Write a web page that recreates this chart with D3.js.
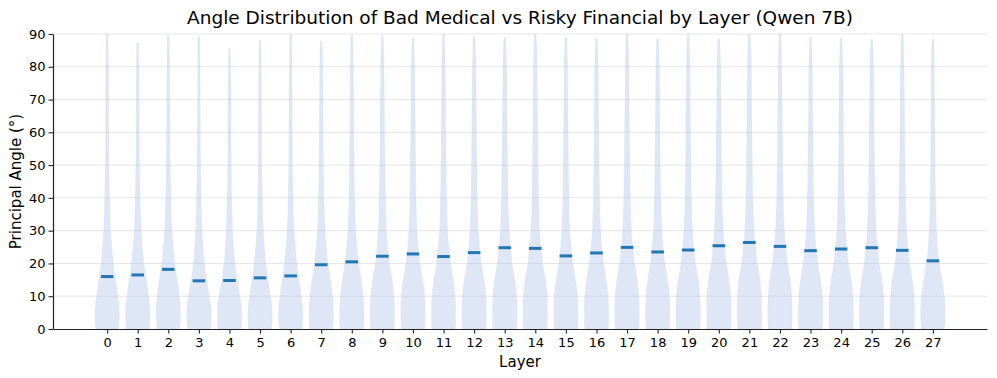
<!DOCTYPE html>
<html>
<head>
<meta charset="utf-8">
<script src="https://cdn.jsdelivr.net/npm/d3@7"></script>
<style>
    body { margin: 0; background: #fff; }
    text { font-family: "DejaVu Sans", sans-serif; fill: #000; }
</style>
</head>
<body>
<div id="chart"></div>
<script>
'use strict';

// layer labels on the x axis
const layers = [0, 1, 2, 3, 4, 5, 6, 7, 8, 9, 10, 11, 12, 13, 14, 15, 16, 17, 18, 19, 20, 21, 22, 23, 24, 25, 26, 27];

// median angle per layer (deg)
const medians = [16.0, 16.5, 18.2, 14.7, 14.8, 15.6, 16.2, 19.6, 20.5, 22.2, 22.9, 22.1, 23.3, 24.8,
                 24.6, 22.3, 23.2, 24.9, 23.5, 24.1, 25.4, 26.4, 25.2, 23.9, 24.4, 24.8, 24.0, 20.8];

// max angle per layer (top of each violin)
const maxima = [90.0, 87.3, 89.6, 89.2, 85.7, 88.1, 89.9, 87.9, 89.6, 89.6, 88.6, 90.0, 89.2, 88.9,
                90.0, 89.0, 88.7, 90.0, 88.6, 90.0, 88.6, 90.0, 90.0, 88.9, 88.7, 88.3, 90.0, 88.4];

// angles at which violin widths were read
const profileAngles = [0, 2, 5, 10, 15, 20, 25, 30, 40, 50, 60, 70, 80];

// relative half-width of each violin at profileAngles (1 = widest)
const widths = [
    [0.92, 0.98, 1.00, 0.87, 0.68, 0.50, 0.38, 0.28, 0.20, 0.15, 0.13, 0.12, 0.11],
    [0.92, 0.98, 1.00, 0.88, 0.70, 0.51, 0.38, 0.28, 0.20, 0.15, 0.13, 0.12, 0.10],
    [0.92, 0.98, 1.00, 0.90, 0.73, 0.54, 0.40, 0.30, 0.21, 0.16, 0.14, 0.13, 0.11],
    [0.93, 0.99, 1.00, 0.85, 0.62, 0.45, 0.34, 0.26, 0.18, 0.14, 0.12, 0.11, 0.10],
    [0.93, 0.99, 1.00, 0.85, 0.62, 0.45, 0.34, 0.26, 0.18, 0.14, 0.12, 0.11, 0.09],
    [0.93, 0.99, 1.00, 0.86, 0.65, 0.47, 0.36, 0.27, 0.19, 0.15, 0.13, 0.12, 0.10],
    [0.92, 0.98, 1.00, 0.87, 0.68, 0.50, 0.38, 0.28, 0.20, 0.16, 0.14, 0.13, 0.11],
    [0.93, 0.98, 1.00, 0.92, 0.75, 0.55, 0.41, 0.31, 0.22, 0.18, 0.16, 0.14, 0.12],
    [0.94, 0.99, 1.00, 0.93, 0.77, 0.56, 0.42, 0.32, 0.23, 0.19, 0.17, 0.15, 0.13],
    [0.95, 0.99, 1.00, 0.95, 0.80, 0.57, 0.43, 0.33, 0.25, 0.21, 0.18, 0.16, 0.14],
    [0.95, 0.99, 1.00, 0.96, 0.80, 0.57, 0.43, 0.33, 0.25, 0.22, 0.19, 0.16, 0.14],
    [0.95, 0.99, 1.00, 0.95, 0.79, 0.57, 0.43, 0.33, 0.25, 0.21, 0.18, 0.16, 0.14],
    [0.95, 0.99, 1.00, 0.96, 0.81, 0.58, 0.44, 0.34, 0.26, 0.22, 0.19, 0.17, 0.14],
    [0.96, 0.99, 1.00, 0.97, 0.83, 0.61, 0.46, 0.36, 0.27, 0.23, 0.20, 0.17, 0.15],
    [0.96, 0.99, 1.00, 0.97, 0.83, 0.60, 0.46, 0.35, 0.27, 0.23, 0.20, 0.17, 0.15],
    [0.95, 0.99, 1.00, 0.95, 0.79, 0.57, 0.43, 0.33, 0.25, 0.21, 0.18, 0.16, 0.14],
    [0.95, 0.99, 1.00, 0.96, 0.81, 0.58, 0.44, 0.34, 0.26, 0.22, 0.19, 0.16, 0.14],
    [0.96, 0.99, 1.00, 0.97, 0.83, 0.61, 0.46, 0.36, 0.27, 0.23, 0.20, 0.17, 0.15],
    [0.95, 0.99, 1.00, 0.96, 0.81, 0.59, 0.45, 0.34, 0.26, 0.22, 0.19, 0.16, 0.14],
    [0.96, 0.99, 1.00, 0.96, 0.82, 0.60, 0.45, 0.35, 0.26, 0.22, 0.19, 0.17, 0.15],
    [0.96, 0.99, 1.00, 0.97, 0.84, 0.62, 0.47, 0.36, 0.27, 0.23, 0.20, 0.17, 0.15],
    [0.96, 0.99, 1.00, 0.98, 0.86, 0.64, 0.49, 0.38, 0.28, 0.24, 0.21, 0.18, 0.16],
    [0.96, 0.99, 1.00, 0.97, 0.84, 0.62, 0.47, 0.36, 0.27, 0.23, 0.20, 0.17, 0.15],
    [0.95, 0.99, 1.00, 0.96, 0.82, 0.60, 0.45, 0.35, 0.26, 0.22, 0.19, 0.16, 0.14],
    [0.96, 0.99, 1.00, 0.96, 0.82, 0.60, 0.46, 0.35, 0.26, 0.22, 0.19, 0.17, 0.14],
    [0.96, 0.99, 1.00, 0.97, 0.83, 0.61, 0.46, 0.36, 0.27, 0.23, 0.20, 0.17, 0.15],
    [0.95, 0.99, 1.00, 0.96, 0.82, 0.60, 0.45, 0.35, 0.26, 0.22, 0.19, 0.17, 0.14],
    [0.94, 0.99, 1.00, 0.94, 0.75, 0.52, 0.39, 0.30, 0.22, 0.18, 0.16, 0.14, 0.12]
];

// width left at the very top of each violin
const topWidth = 0.07;

const yTicks = [0, 10, 20, 30, 40, 50, 60, 70, 80, 90];

const W = 997, H = 378;
const margin = { top: 34, right: 10, bottom: 49, left: 53 };

let svg = d3.select('#chart').append('svg')
    .attr('width', W)
    .attr('height', H);

let x = d3.scaleLinear()
    .domain([-1.77, 28.77])
    .range([margin.left, W - margin.right]);

let y = d3.scaleLinear()
    .domain([0, 90])
    .range([H - margin.bottom, margin.top]);

// half-width of a violin in data units (violin width 0.8)
const halfUnits = 0.4;
let px = x(halfUnits) - x(0);

// gridlines
svg.append('g')
    .attr('class', 'grid')
    .selectAll('line')
    .data(yTicks.slice(1))
    .join('line')
        .attr('x1', margin.left)
        .attr('x2', W - margin.right)
        .attr('y1', d => y(d))
        .attr('y2', d => y(d))
        .attr('stroke', '#b0b0b0')
        .attr('stroke-opacity', 0.3)
        .attr('stroke-width', 1);

// violins
let area = d3.area()
    .curve(d3.curveMonotoneY)
    .y(d => y(d.a));

let violins = layers.map((layer, i) => {
    let pts = profileAngles
        .map((a, j) => ({ a: a, w: widths[i][j] }))
        .filter(p => p.a < maxima[i] - 1);
    pts.push({ a: maxima[i], w: topWidth });
    return { layer: layer, pts: pts };
});

svg.append('g')
    .attr('class', 'violins')
    .selectAll('path')
    .data(violins)
    .join('path')
        .attr('d', v => area
            .x0(p => x(v.layer) - p.w * px)
            .x1(p => x(v.layer) + p.w * px)(v.pts))
        .attr('fill', 'rgb(180, 200, 235)')
        .attr('fill-opacity', 0.43)
        .attr('stroke', '#1f77b4')
        .attr('stroke-opacity', 0.04)
        .attr('stroke-width', 1);

// medians
svg.append('g')
    .attr('class', 'medians')
    .selectAll('line')
    .data(layers)
    .join('line')
        .attr('x1', d => x(d - 0.205))
        .attr('x2', d => x(d + 0.205))
        .attr('y1', (d, i) => y(medians[i]))
        .attr('y2', (d, i) => y(medians[i]))
        .attr('stroke', '#1f77b4')
        .attr('stroke-width', 3);

// axes
let yAxis = svg.append('g')
    .attr('transform', `translate(${margin.left}, 0)`)
    .call(d3.axisLeft(y).tickValues(yTicks).tickSizeInner(4.5).tickSizeOuter(0).tickPadding(3));

let xAxis = svg.append('g')
    .attr('transform', `translate(0, ${H - margin.bottom})`)
    .call(d3.axisBottom(x).tickValues(layers).tickFormat(d3.format('d'))
        .tickSizeInner(4.5).tickSizeOuter(0).tickPadding(4));

[xAxis, yAxis].forEach(g => {
    g.select('.domain').attr('stroke', '#222').attr('stroke-width', 1.2);
    g.selectAll('.tick line').attr('stroke', '#222').attr('stroke-width', 1.1);
    g.selectAll('.tick text')
        .attr('font-size', '13px')
        .attr('font-family', '"DejaVu Sans", sans-serif')
        .attr('fill', '#000');
});

// title and labels
svg.append('text')
    .attr('x', (margin.left + W - margin.right) / 2)
    .attr('y', 24)
    .attr('text-anchor', 'middle')
    .attr('font-size', '18.5px')
    .text('Angle Distribution of Bad Medical vs Risky Financial by Layer (Qwen 7B)');

svg.append('text')
    .attr('x', (margin.left + W - margin.right) / 2)
    .attr('y', 367)
    .attr('text-anchor', 'middle')
    .attr('font-size', '15px')
    .text('Layer');

svg.append('text')
    .attr('transform', `translate(21, ${(margin.top + H - margin.bottom) / 2}) rotate(-90)`)
    .attr('text-anchor', 'middle')
    .attr('font-size', '15px')
    .text('Principal Angle (°)');
</script>
</body>
</html>
